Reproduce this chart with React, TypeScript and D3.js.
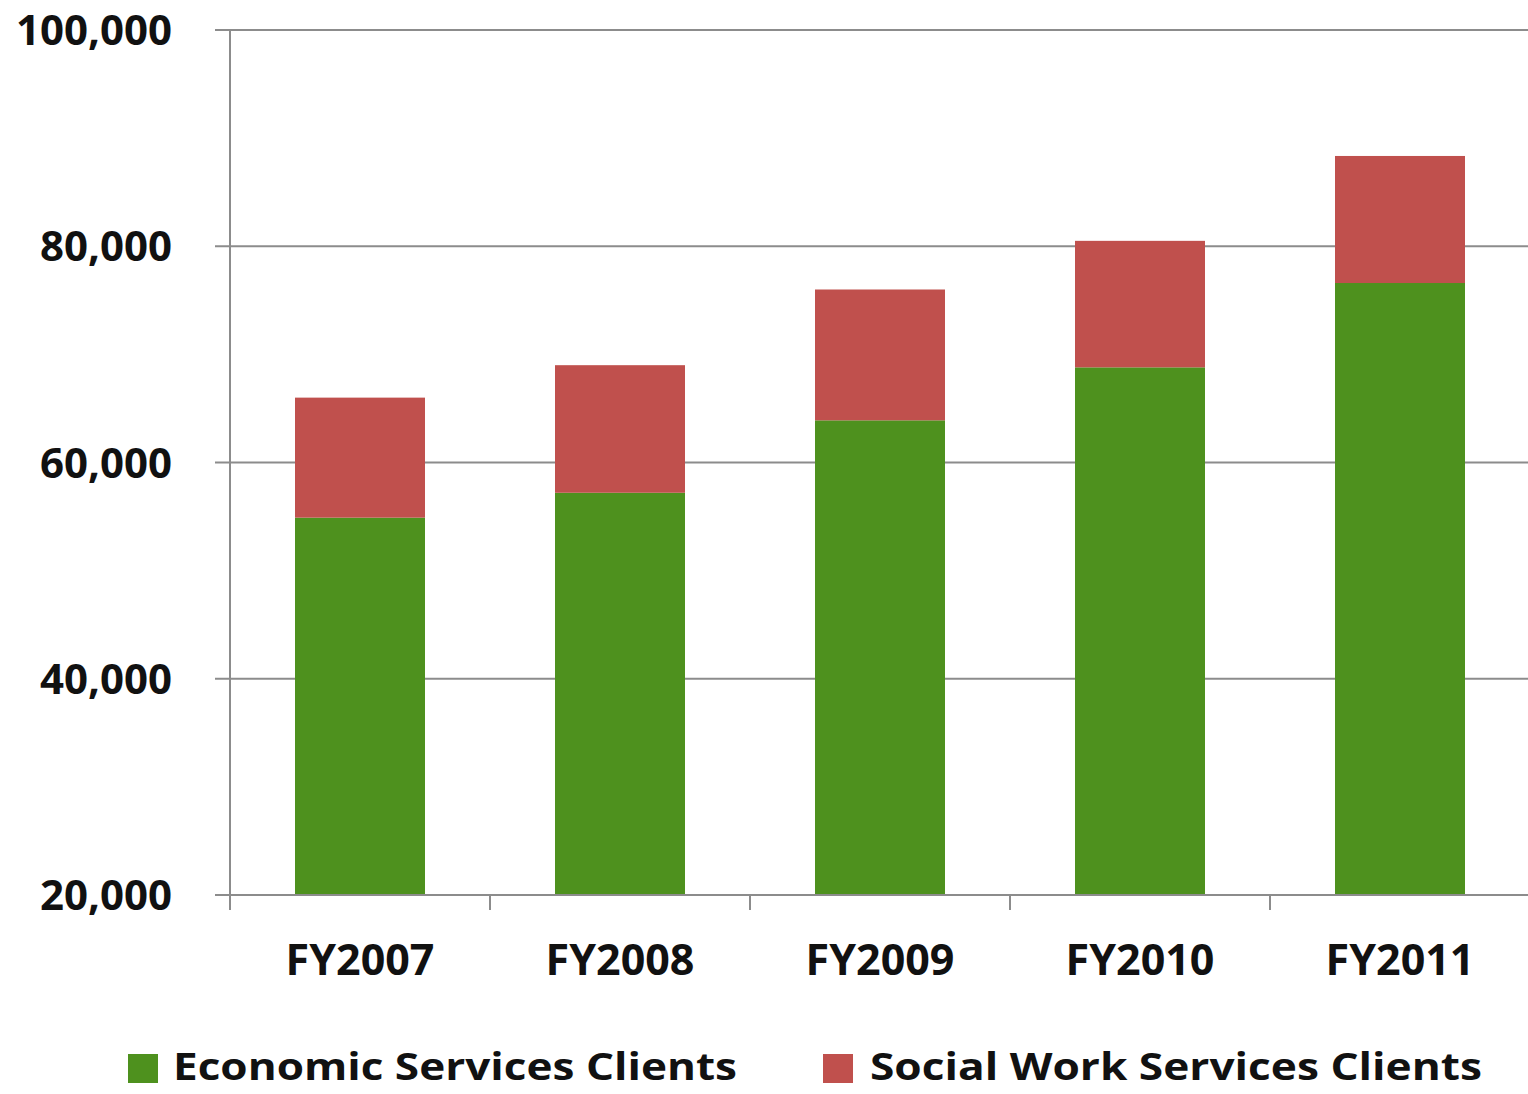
import React from "react";
import * as d3 from "d3";

const categories = ["FY2007", "FY2008", "FY2009", "FY2010", "FY2011"];
const economicClients = [54900, 57200, 63900, 68800, 76600];
const socialWorkClients = [11100, 11800, 12100, 11700, 11750];
const yTicks = [20000, 40000, 60000, 80000, 100000];
const seriesNames = ["Economic Services Clients", "Social Work Services Clients"];
const seriesColors = ["#4E911E", "#C0504D"];

const W = 1528;
const H = 1094;
const margin = { left: 230, right: -2, top: 30, bottom: 199 };

export default function App() {
  const x = d3
    .scaleBand<string>()
    .domain(categories)
    .range([margin.left, W - margin.right])
    .paddingInner(0.5)
    .paddingOuter(0.25);
  const y = d3
    .scaleLinear()
    .domain([20000, 100000])
    .range([H - margin.bottom, margin.top])
    .clamp(true);

  const rows = categories.map((c, i) => ({ cat: c, econ: economicClients[i], social: socialWorkClients[i] }));
  const stack = d3.stack<any>().keys(["econ", "social"]);
  const series = stack(rows);

  const catBoundaries = categories.map((c) => (x(c) as number) - x.bandwidth() * 0.5);
  const font = "'Open Sans', 'DejaVu Sans', sans-serif";

  return (
    <svg
      width={W}
      height={H}
      style={{ position: "absolute", left: 0, top: 0, background: "#fff" }}
      fontFamily={font}
    >
      {/* gridlines */}
      {yTicks.map((t) => (
        <line key={t} x1={215} x2={W} y1={y(t)} y2={y(t)} stroke="#8c8c8c" strokeWidth={2} />
      ))}
      {/* bars */}
      {series.map((s, si) =>
        s.map((d, i) => (
          <rect
            key={si + "-" + i}
            x={x(categories[i])}
            width={x.bandwidth()}
            y={y(d[1])}
            height={y(d[0]) - y(d[1])}
            fill={seriesColors[si]}
          />
        ))
      )}
      {/* axes */}
      <line x1={margin.left} x2={margin.left} y1={y(100000)} y2={y(20000) + 15} stroke="#8c8c8c" strokeWidth={2} />
      <line x1={215} x2={W} y1={y(20000)} y2={y(20000)} stroke="#8c8c8c" strokeWidth={2} />
      {catBoundaries.map((bx, i) => (
        <line key={i} x1={bx} x2={bx} y1={y(20000)} y2={y(20000) + 15} stroke="#8c8c8c" strokeWidth={2} />
      ))}
      {yTicks.map((t) => (
        <text
          key={t}
          x={172}
          y={y(t)}
          dy="0.36em"
          textAnchor="end"
          fontSize={42}
          fontWeight={700}
          fill="#111"
        >
          {d3.format(",")(t)}
        </text>
      ))}
      {categories.map((c) => (
        <text
          key={c}
          x={(x(c) as number) + x.bandwidth() / 2}
          y={975}
          textAnchor="middle"
          fontSize={43}
          fontWeight={700}
          fill="#111"
        >
          {c}
        </text>
      ))}
      {/* legend */}
      <rect x={128} y={1054} width={30} height={29} fill={seriesColors[0]} />
      <text x={173} y={1080} fontSize={38} fontWeight={700} fill="#111" textLength={564} lengthAdjust="spacingAndGlyphs">
        {seriesNames[0]}
      </text>
      <rect x={823} y={1054} width={30} height={29} fill={seriesColors[1]} />
      <text x={870} y={1080} fontSize={38} fontWeight={700} fill="#111" textLength={612} lengthAdjust="spacingAndGlyphs">
        {seriesNames[1]}
      </text>
    </svg>
  );
}
